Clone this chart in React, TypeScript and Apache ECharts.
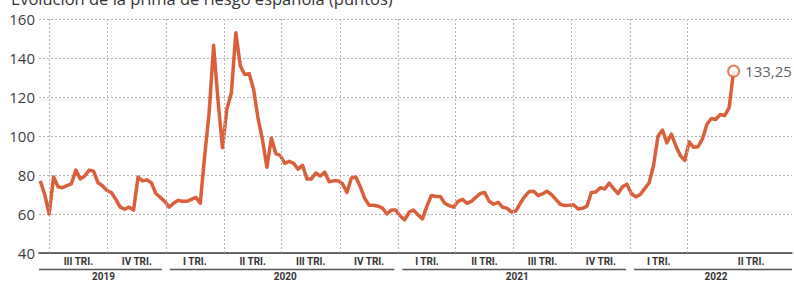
import React, { useEffect, useRef } from 'react';
import * as echarts from 'echarts';

const TITLE = 'Evolución de la prima de riesgo española (puntos)';
// weekly observations, first one on 17 June 2019
const START = [2019, 5, 17];
const STEP_DAYS = 7;
const PRIMA = [
  77, 70, 60, 79, 74, 73.5, 74.5, 75.5, 82.5, 78,
  79.5, 82.5, 82, 76, 74.5, 72, 71, 67.5, 63.5, 62.5,
  63.5, 62, 79, 77, 77.5, 76, 70.5, 68.5, 66.5, 63.5,
  65.5, 67, 66.5, 66.5, 67.5, 68.5, 65.5, 90, 112, 146.5,
  118, 94, 114, 122, 153, 136, 131.5, 132, 124, 109,
  98, 84, 99, 91, 90, 86, 87, 86, 83, 85,
  78, 78, 81, 79.5, 81.5, 76.5, 77, 77, 75.5, 71,
  78.5, 79, 74, 68, 64.5, 64.5, 64, 63, 60, 62,
  62, 59, 57, 61, 62, 59.5, 57.5, 64, 69.5, 69,
  69, 65.5, 64.3, 63.5, 66.5, 67.5, 65.5, 66.5, 68.5, 70.5,
  71, 66.5, 65, 66, 63.5, 63, 61, 61.5, 65.5, 69,
  71.5, 71.7, 69.5, 70.3, 71.7, 70, 67.5, 65, 64.3, 64.5,
  64.8, 62.6, 62.9, 64, 71, 71.3, 73.5, 72.8, 75.8, 73,
  70.5, 74, 75.3, 70.5, 68.8, 70, 73, 76, 85, 100,
  103, 96.5, 101, 95, 90, 87.5, 97, 94.2, 94.5, 98.5,
  106, 109, 108.5, 111, 110.5, 114.5, 133.25,
];
const LAST_LABEL = '133,25';

const AXIS_MIN = [2019, 5, 15];
const AXIS_MAX = [2022, 8, 13];
const Y_MIN = 40;
const Y_MAX = 160;
const Y_STEP = 20;

const QUARTER_STARTS = [
  [2019, 6, 1], [2019, 9, 1], [2020, 0, 1], [2020, 3, 1], [2020, 6, 1], [2020, 9, 1],
  [2021, 0, 1], [2021, 3, 1], [2021, 6, 1], [2021, 9, 1], [2022, 0, 1], [2022, 3, 1],
];
// nominal end of the last quarter label span
const QUARTER_LAST_END = [2022, 9, 19];
const QUARTER_LABELS = [
  'III TRI.', 'IV TRI.', 'I TRI.', 'II TRI.', 'III TRI.', 'IV TRI.',
  'I TRI.', 'II TRI.', 'III TRI.', 'IV TRI.', 'I TRI.', 'II TRI.',
];
const YEARS = ['2019', '2020', '2021', '2022'];
const YEAR_BOUNDS = [[2020, 0, 1], [2021, 0, 1], [2022, 0, 1]];

const LINE_COLOR = '#d9603b';
const GRID_COLOR = '#b3b3b3';
const TEXT_COLOR = '#333333';

const t = (d: number[]) => new Date(d[0], d[1], d[2]).getTime();

export default function App() {
  const ref = useRef<HTMLDivElement>(null);

  useEffect(() => {
    const el = ref.current;
    if (!el) return;
    const chart = echarts.init(el, null, { renderer: 'svg' });
    const data = PRIMA.map((v, i) => [
      new Date(START[0], START[1], START[2] + i * STEP_DAYS).getTime(),
      v,
    ]);
    const last = data[data.length - 1];

    chart.setOption({
      animation: false,
      grid: { left: 39, right: 2, top: 19, bottom: 29 },
      xAxis: {
        type: 'time',
        min: t(AXIS_MIN),
        max: t(AXIS_MAX),
        axisLine: { show: true, lineStyle: { color: '#3a3a3a', width: 1.5 } },
        axisTick: { show: false },
        axisLabel: { show: false },
        splitLine: { show: false },
      },
      yAxis: {
        type: 'value',
        min: Y_MIN,
        max: Y_MAX,
        interval: Y_STEP,
        axisLine: { show: false },
        axisTick: { show: false },
        axisLabel: {
          color: '#3d3d3d',
          fontSize: 15,
          fontFamily: 'Open Sans',
          margin: 4,
        },
        splitLine: { lineStyle: { color: GRID_COLOR, type: [2, 2], width: 1 } },
      },
      series: [
        {
          type: 'line',
          data,
          symbol: 'none',
          showSymbol: false,
          lineStyle: { color: LINE_COLOR, width: 3.5, join: 'round' },
          markLine: {
            silent: true,
            symbol: ['none', 'none'],
            label: { show: false },
            lineStyle: { color: GRID_COLOR, type: [2, 2], width: 1 },
            data: QUARTER_STARTS.map((d) => ({ xAxis: t(d) })),
          },
          z: 3,
        },
        {
          type: 'scatter',
          data: [last],
          symbol: 'circle',
          symbolSize: 11,
          itemStyle: { color: '#ffffff', borderColor: LINE_COLOR, borderWidth: 2 },
          label: {
            show: true,
            position: 'right',
            distance: 5,
            formatter: LAST_LABEL,
            color: TEXT_COLOR,
            fontSize: 15,
            fontFamily: 'Open Sans',
          },
          z: 5,
        },
      ],
    });

    const px = (d: number[]) => chart.convertToPixel({ xAxisIndex: 0 }, t(d)) as number;
    const graphics: any[] = [];
    graphics.push({
      type: 'text',
      left: 11,
      top: -10,
      style: {
        text: TITLE,
        fontSize: 16.5,
        fontFamily: 'Open Sans',
        fill: TEXT_COLOR,
      },
    });
    QUARTER_LABELS.forEach((lab, i) => {
      const a = px(QUARTER_STARTS[i]);
      const b = px(i + 1 < QUARTER_STARTS.length ? QUARTER_STARTS[i + 1] : QUARTER_LAST_END);
      graphics.push({
        type: 'text',
        x: (a + b) / 2,
        y: 261,
        style: {
          text: lab,
          fontSize: 10,
          fontWeight: 'bold',
          fontFamily: 'Roboto',
          fill: TEXT_COLOR,
          align: 'center',
          verticalAlign: 'middle',
        },
      });
    });
    const gridLeft = px(AXIS_MIN);
    const gridRight = px(AXIS_MAX);
    const bounds = [gridLeft, ...YEAR_BOUNDS.map(px), gridRight];
    YEARS.forEach((yr, i) => {
      const x1 = i === 0 ? bounds[i] : bounds[i] + 4;
      const x2 = i === YEARS.length - 1 ? bounds[i + 1] : bounds[i + 1] - 4;
      graphics.push({
        type: 'line',
        shape: { x1, y1: 269.5, x2, y2: 269.5 },
        style: { stroke: '#555555', lineWidth: 1.5 },
      });
      graphics.push({
        type: 'text',
        x: (x1 + x2) / 2 + 3,
        y: 276.5,
        style: {
          text: yr,
          fontSize: 10,
          fontWeight: 'bold',
          fontFamily: 'Roboto',
          fill: TEXT_COLOR,
          align: 'center',
          verticalAlign: 'middle',
        },
      });
    });
    chart.setOption({ graphic: graphics });

    return () => chart.dispose();
  }, []);

  return (
    <div
      ref={ref}
      style={{ position: 'absolute', left: 0, top: 0, width: 794, height: 282 }}
    />
  );
}
